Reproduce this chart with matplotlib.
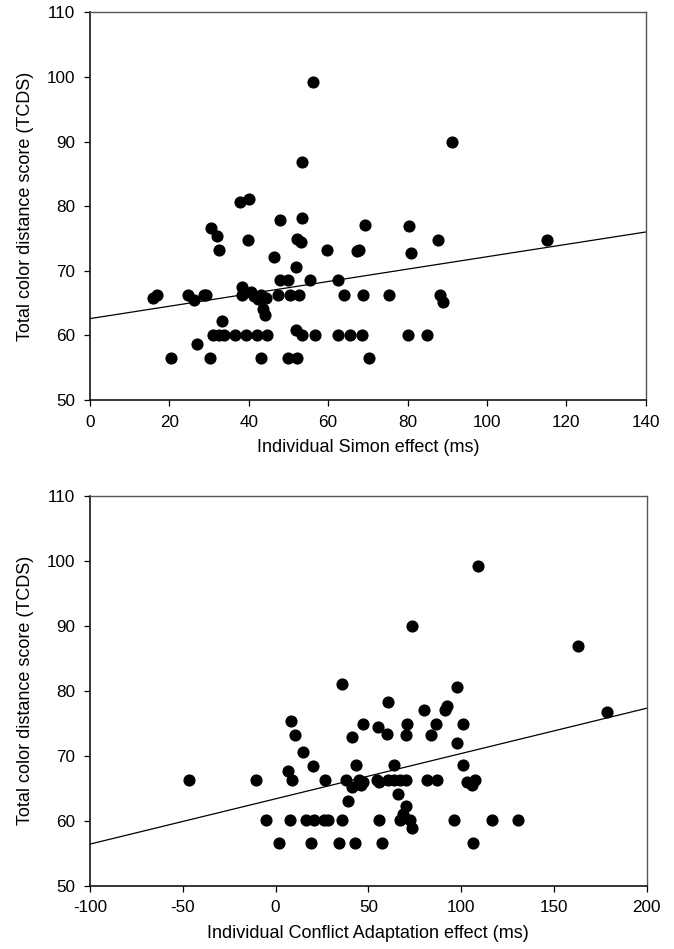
import matplotlib
matplotlib.use("Agg")
import matplotlib.pyplot as plt

plt.rcParams["font.family"] = ["Liberation Sans", "DejaVu Sans"]
plt.rcParams["axes.unicode_minus"] = False

# Top panel: Simon effect vs TCDS
simon_x = [15.8, 17.0, 20.3, 24.6, 26.2, 26.9, 28.7, 29.3, 30.2, 30.6,
           31.0, 32.0, 32.4, 32.6, 33.3, 33.8, 36.5, 37.8, 38.4, 38.4,
           39.3, 39.9, 40.0, 40.5, 41.3, 42.0, 42.4, 43.1, 43.2, 43.5,
           44.1, 44.3, 44.7, 46.4, 47.3, 47.9, 47.9, 49.9, 50.0, 50.5,
           51.8, 52.0, 52.2, 52.2, 52.6, 53.2, 53.4, 53.5, 53.5, 55.4,
           56.1, 56.7, 59.6, 62.5, 62.6, 64.0, 65.5, 67.3, 67.7, 68.6,
           68.9, 69.2, 70.2, 75.3, 80.0, 80.4, 80.9, 85.0, 87.6, 88.2,
           89.0, 91.3, 115.2]
simon_y = [65.8, 66.2, 56.5, 66.2, 65.5, 58.7, 66.2, 66.2, 56.5, 76.6,
           60.0, 75.4, 60.0, 73.2, 62.3, 60.0, 60.0, 80.6, 67.5, 66.2,
           60.0, 74.8, 81.1, 66.7, 66.1, 60.0, 65.6, 66.3, 56.5, 64.1,
           63.1, 65.8, 60.0, 72.1, 66.2, 77.8, 68.5, 68.5, 56.5, 66.2,
           70.6, 60.9, 74.9, 56.5, 66.2, 74.4, 78.2, 86.9, 60.0, 68.5,
           99.2, 60.0, 73.2, 68.5, 60.0, 66.2, 60.0, 73.1, 73.2, 60.0,
           66.2, 77.1, 56.5, 66.2, 60.0, 77.0, 72.8, 60.0, 74.8, 66.2,
           65.1, 90.0, 74.8]
simon_fit_x = [0, 140]
simon_fit_y = [62.6, 76.0]

# Bottom panel: Conflict adaptation effect vs TCDS
ca_x = [-46.6, -10.5, -5.2, 1.7, 6.5, 7.6, 8.1, 8.9, 10.5, 14.6,
        16.2, 19.1, 20.0, 20.9, 26.3, 26.8, 28.4, 34.3, 36.0, 36.0,
        37.8, 38.9, 41.0, 41.3, 42.8, 43.3, 45.1, 46.0, 47.0, 47.3,
        54.8, 55.0, 55.7, 55.9, 57.5, 60.2, 60.8, 60.8, 64.0, 64.0,
        65.8, 67.1, 67.1, 68.8, 70.1, 70.1, 70.1, 71.0, 72.4, 73.3,
        73.3, 80.0, 81.8, 83.6, 86.5, 87.2, 91.5, 92.2, 96.3, 97.6,
        97.9, 100.8, 100.8, 103.0, 105.7, 106.6, 107.5, 109.3, 116.8, 130.5,
        162.8, 178.4]
ca_y = [66.3, 66.3, 60.1, 56.5, 67.6, 60.1, 75.4, 66.3, 73.2, 70.6,
        60.1, 56.5, 68.4, 60.1, 60.1, 66.3, 60.1, 56.5, 60.1, 81.1,
        66.3, 63.1, 65.2, 72.8, 56.5, 68.5, 66.3, 65.5, 74.8, 65.9,
        66.3, 74.4, 65.9, 60.1, 56.5, 73.3, 78.2, 66.3, 68.5, 66.3,
        64.1, 66.3, 60.1, 61.0, 73.2, 66.3, 62.3, 74.8, 60.1, 58.8,
        90.0, 77.1, 66.3, 73.2, 74.8, 66.3, 77.1, 77.7, 60.1, 80.6,
        72.0, 74.8, 68.5, 65.9, 65.5, 56.5, 66.3, 99.2, 60.1, 60.1,
        86.9, 76.7]
ca_fit_x = [-100, 200]
ca_fit_y = [56.4, 77.3]

fig = plt.figure(figsize=(6.74, 9.49), dpi=100)
ax1 = fig.add_axes([0.1335, 0.5785, 0.8245, 0.4085])
ax2 = fig.add_axes([0.1335, 0.0667, 0.826, 0.411])


def style(ax, xlim, xticks, xlabel):
    ax.set_xlim(*xlim)
    ax.set_ylim(50, 110)
    ax.set_xticks(xticks)
    ax.set_yticks(range(50, 111, 10))
    ax.tick_params(direction="out", length=4.5, width=0.9, labelsize=12.3,
                   top=False, right=False, pad=6)
    for side in ["left", "bottom"]:
        ax.spines[side].set_linewidth(1.1)
        ax.spines[side].set_color("black")
    for side in ["top", "right"]:
        ax.spines[side].set_linewidth(1.0)
        ax.spines[side].set_color("#555555")
    ax.set_xlabel(xlabel, fontsize=13, labelpad=7)
    ax.set_ylabel("Total color distance score (TCDS)", fontsize=13, labelpad=9)


ax1.plot(simon_fit_x, simon_fit_y, color="black", lw=0.9)
ax1.scatter(simon_x, simon_y, s=60, color="black", zorder=3, clip_on=False)
style(ax1, (0, 140), range(0, 141, 20), "Individual Simon effect (ms)")

ax2.plot(ca_fit_x, ca_fit_y, color="black", lw=0.9)
ax2.scatter(ca_x, ca_y, s=60, color="black", zorder=3, clip_on=False)
style(ax2, (-100, 200), range(-100, 201, 50), "Individual Conflict Adaptation effect (ms)")

fig.savefig("out.png", dpi=100)
